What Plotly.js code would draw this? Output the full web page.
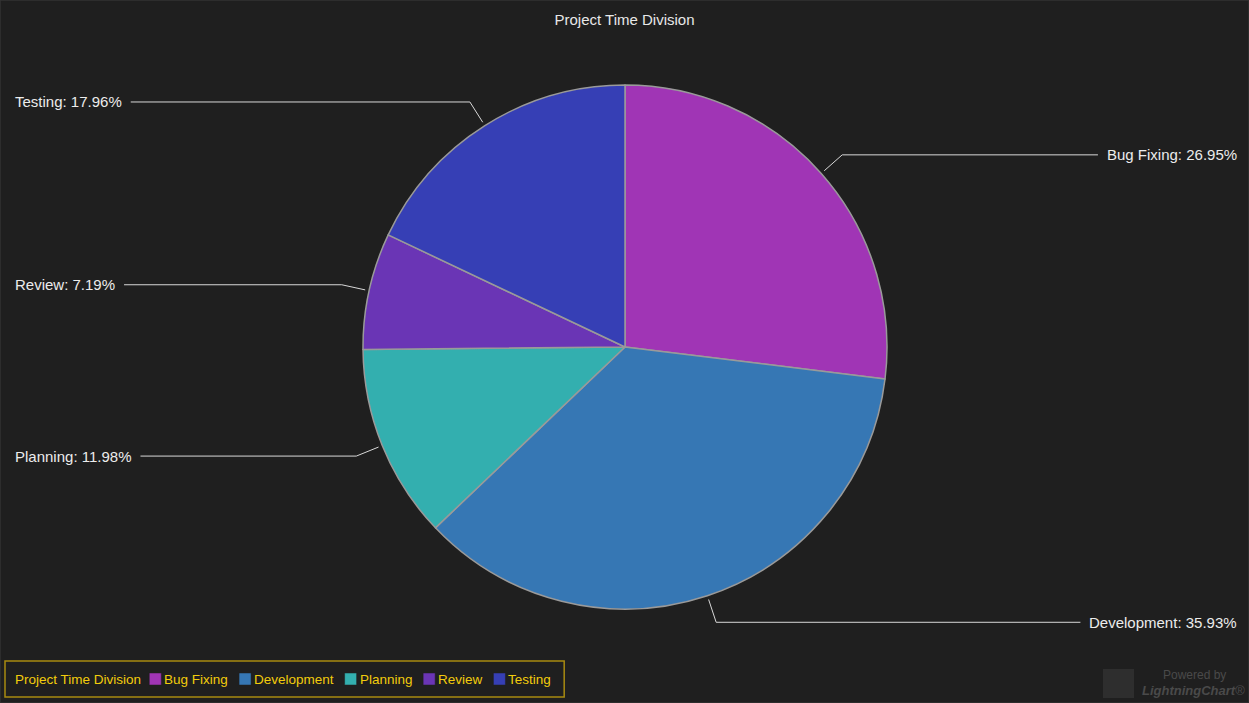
<!DOCTYPE html>
<html>
<head>
<meta charset="utf-8">
<script src="https://cdn.plot.ly/plotly-3.0.1.min.js"></script>
<style>
html,body{margin:0;padding:0;background:#1f1f1f;}
#chart{width:1249px;height:703px;}
</style>
</head>
<body>
<div id="chart"></div>
<script>
// ---- data ----
const chartTitle = "Project Time Division";
const categories = ["Bug Fixing", "Development", "Planning", "Review", "Testing"];
const hours = [45, 60, 20, 12, 30];
const sliceColors = ["#a035b5", "#3677b4", "#33afaf", "#6a35b5", "#363fb5"];

// ---- layout constants ----
const W = 1249, H = 703;
const CX = 625, CY = 347, R = 262;
const FONT = "Liberation Sans, Arial, sans-serif";
const LABEL_SIZE = 15, LEGEND_SIZE = 13.5;
const PAD = 2; // annotation inner padding

const cv = document.createElement('canvas').getContext('2d');
function textW(t, size){ cv.font = size + "px 'Liberation Sans', Arial"; return cv.measureText(t).width; }
const px = x => x / W;
const py = y => 1 - y / H;

const total = hours.reduce((a,b)=>a+b,0);
const shapes = [];
const annotations = [];

// leader lines + labels, computed from the data
let cum = 0;
hours.forEach((v,i)=>{
  const th = 2*Math.PI*(cum + v/2)/total;
  cum += v;
  const s = Math.sin(th), c = Math.cos(th);
  const x0 = CX + (R+4)*s, y0 = CY - (R+4)*c;
  const x1 = CX + (R+28)*s, y1 = CY - (R+28)*c;
  const txt = categories[i] + ": " + (v/total*100).toFixed(2) + "%";
  const tw = textW(txt, LABEL_SIZE);
  const right = s > 0;
  const x2 = right ? (1237 - tw - 9) : (15 + tw + 9);
  shapes.push({type:'path', xref:'paper', yref:'paper',
    path:`M${px(x0)},${py(y0)} L${px(x1)},${py(y1)} L${px(x2)},${py(y1)}`,
    line:{color:'#d8d8d8', width:1}});
  annotations.push({xref:'paper', yref:'paper', x: right ? px(1237+PAD) : px(15-PAD), y: py(y1),
    xanchor: right ? 'right' : 'left', yanchor:'middle', showarrow:false, text: txt,
    font:{family:FONT, size:LABEL_SIZE, color:'#ececec'}});
});

// custom legend (compact, like reference)
const legY = 679;
let lx = 15;
annotations.push({xref:'paper', yref:'paper', x:px(lx-PAD), y:py(legY), xanchor:'left', yanchor:'middle',
  showarrow:false, text: chartTitle, font:{family:FONT, size:LEGEND_SIZE, color:'#f2cc0c'}});
lx += textW(chartTitle, LEGEND_SIZE) + 8;
categories.forEach((cat,i)=>{
  shapes.push({type:'rect', xref:'paper', yref:'paper', x0:px(lx), x1:px(lx+12), y0:py(legY+6), y1:py(legY-6),
    fillcolor:sliceColors[i], line:{color:'#202020', width:0.5}});
  lx += 15;
  annotations.push({xref:'paper', yref:'paper', x:px(lx-PAD), y:py(legY), xanchor:'left', yanchor:'middle',
    showarrow:false, text: cat, font:{family:FONT, size:LEGEND_SIZE, color:'#f2cc0c'}});
  lx += textW(cat, LEGEND_SIZE) + (i < categories.length-1 ? 11 : 0);
});
shapes.push({type:'rect', xref:'paper', yref:'paper', x0:px(5), x1:px(lx+13), y0:py(697), y1:py(661),
  line:{color:'#a88a10', width:1.5}, fillcolor:'rgba(0,0,0,0)'});

// watermark
shapes.push({type:'rect', xref:'paper', yref:'paper', x0:px(1103), x1:px(1134), y0:py(698), y1:py(669),
  fillcolor:'#2e2e2e', line:{width:0}});
annotations.push({xref:'paper', yref:'paper', x:px(1228), y:py(675), xanchor:'right', yanchor:'middle',
  showarrow:false, text:'Powered by', font:{family:FONT, size:12, color:'#4a4a4a'}});
annotations.push({xref:'paper', yref:'paper', x:px(1247), y:py(690), xanchor:'right', yanchor:'middle',
  showarrow:false, text:'<b><i>LightningChart</i></b>®', font:{family:FONT, size:13, color:'#4a4a4a'}});

// frame
shapes.push({type:'rect', xref:'paper', yref:'paper', x0:0, x1:1, y0:0, y1:1,
  line:{color:'#333333', width:1.5}, fillcolor:'rgba(0,0,0,0)'});

const trace = {
  type:'pie', labels:categories, values:hours, sort:false, direction:'clockwise', rotation:0,
  marker:{colors:sliceColors, line:{color:'#9a9a9a', width:1.5}},
  textinfo:'none', showlegend:false, hoverinfo:'label+percent',
  domain:{x:[px(CX-R), px(CX+R)], y:[py(CY+R), py(CY-R)]}
};

const layout = {
  width:W, height:H, margin:{l:0,r:0,t:0,b:0},
  paper_bgcolor:'#1f1f1f', plot_bgcolor:'#1f1f1f',
  title:{text:chartTitle, x:0.5, xanchor:'center', y:py(20), yanchor:'middle', yref:'paper',
    font:{family:FONT, size:15, color:'#e8e8e8'}},
  showlegend:false, shapes:shapes, annotations:annotations
};

Plotly.newPlot('chart', [trace], layout, {displayModeBar:false, responsive:false});
</script>
</body>
</html>
